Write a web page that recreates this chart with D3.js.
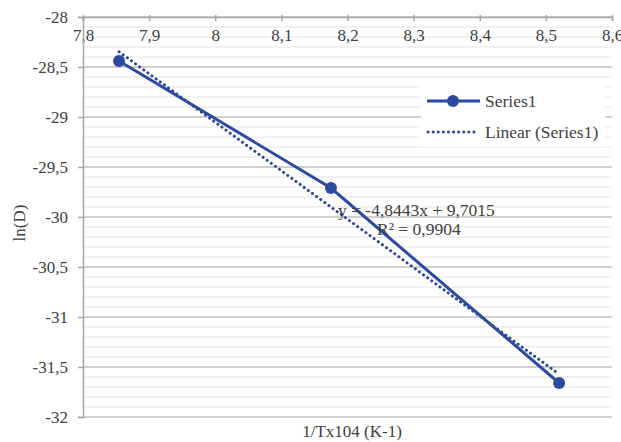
<!DOCTYPE html>
<html>
<head>
<meta charset="utf-8">
<script src="https://cdn.jsdelivr.net/npm/d3@7"></script>
<style>
  body { margin: 0; background: #fff; }
  text { font-family: "Liberation Serif", "Times New Roman", serif; fill: #404040; }
</style>
</head>
<body>
<div id="chart"></div>
<script>
var xValues = [7.8545, 8.175, 8.52];
var yValues = [-28.44, -29.71, -31.66];
var trendSlope = -4.8443, trendIntercept = 9.7015;
var xTicks = [7.8, 7.9, 8.0, 8.1, 8.2, 8.3, 8.4, 8.5, 8.6];
var yTicks = [-28, -28.5, -29, -29.5, -30, -30.5, -31, -31.5, -32];
var equationLines = ["y = -4,8443x + 9,7015", "R² = 0,9904"];
var legendLabels = ["Series1", "Linear (Series1)"];

var margin = { top: 17, right: 9, bottom: 25, left: 83 },
    width = 621 - margin.left - margin.right,
    height = 442 - margin.top - margin.bottom;

var blue = "#2c4a9e";
var locale = d3.formatLocale({ decimal: ",", thousands: ".", grouping: [3], currency: ["", ""], minus: "-" });
var fmt = locale.format("~g");

var x = d3.scaleLinear().domain([7.8, 8.6]).range([0, width]);
var y = d3.scaleLinear().domain([-32, -28]).range([height, 0]);

var svg = d3.select("#chart").append("svg")
    .attr("width", 621)
    .attr("height", 442)
  .append("g")
    .attr("transform", "translate(" + margin.left + "," + margin.top + ")");

// minor gridlines every 0.1
var minor = d3.range(0, 41).map(function(i) { return -32 + i * 0.1; });
svg.selectAll(".minor")
    .data(minor)
    .enter().append("line")
    .attr("x1", 0).attr("x2", width)
    .attr("y1", function(d) { return y(d); })
    .attr("y2", function(d) { return y(d); })
    .attr("stroke", "#e3e3e3")
    .attr("stroke-width", 1);

svg.selectAll(".major")
    .data(yTicks)
    .enter().append("line")
    .attr("x1", 0).attr("x2", width)
    .attr("y1", function(d) { return y(d); })
    .attr("y2", function(d) { return y(d); })
    .attr("stroke", "#c4c4c4")
    .attr("stroke-width", 1.5);

// x axis on top
var xAxis = svg.append("g")
    .call(d3.axisBottom(x).tickValues(xTicks).tickSize(4).tickFormat(fmt));
xAxis.select(".domain").attr("stroke", "#a6a6a6").attr("stroke-width", 1.5);
xAxis.selectAll(".tick line").attr("stroke", "#a6a6a6").attr("stroke-width", 1.5).attr("y1", -2);
xAxis.selectAll(".tick text").attr("y", 12).style("font-size", "17px").style("font-family", "Liberation Serif").attr("fill", "#404040");

// y axis
var yAxis = svg.append("g")
    .call(d3.axisLeft(y).tickValues(yTicks).tickSize(5).tickFormat(fmt));
yAxis.select(".domain").attr("stroke", "#a6a6a6").attr("stroke-width", 1.5);
yAxis.selectAll(".tick line").attr("stroke", "#a6a6a6").attr("stroke-width", 1.5);
yAxis.selectAll(".tick text").attr("x", -15).style("font-size", "17px").style("font-family", "Liberation Serif").attr("fill", "#404040");

// trendline between first and last x
var trend = [xValues[0], xValues[xValues.length - 1]].map(function(v) {
    return { x: v, y: trendSlope * v + trendIntercept };
});
svg.append("path")
    .datum(trend)
    .attr("fill", "none")
    .attr("stroke", blue)
    .attr("stroke-width", 3)
    .attr("stroke-linecap", "round")
    .attr("stroke-dasharray", "0.1,5")
    .attr("d", d3.line().x(function(d) { return x(d.x); }).y(function(d) { return y(d.y); }));

var pts = xValues.map(function(v, i) { return { x: v, y: yValues[i] }; });
svg.append("path")
    .datum(pts)
    .attr("fill", "none")
    .attr("stroke", blue)
    .attr("stroke-width", 3)
    .attr("d", d3.line().x(function(d) { return x(d.x); }).y(function(d) { return y(d.y); }));

svg.selectAll(".dot")
    .data(pts)
    .enter().append("circle")
    .attr("r", 6)
    .attr("cx", function(d) { return x(d.x); })
    .attr("cy", function(d) { return y(d.y); })
    .attr("fill", blue);

// equation
svg.append("text")
    .attr("x", 255).attr("y", 199)
    .style("font-size", "17.5px")
    .text(equationLines[0]);
svg.append("text")
    .attr("x", 294).attr("y", 218)
    .style("font-size", "17.5px")
    .text(equationLines[1]);

// legend
var lg = svg.append("g").attr("transform", "translate(338,68)");
lg.append("rect").attr("width", 184).attr("height", 62).attr("fill", "#fff");
lg.append("line").attr("x1", 6).attr("x2", 59).attr("y1", 16).attr("y2", 16)
    .attr("stroke", blue).attr("stroke-width", 3);
lg.append("circle").attr("cx", 32).attr("cy", 16).attr("r", 6).attr("fill", blue);
lg.append("line").attr("x1", 7).attr("x2", 56).attr("y1", 47).attr("y2", 47)
    .attr("stroke", blue).attr("stroke-width", 3)
    .attr("stroke-linecap", "round").attr("stroke-dasharray", "0.1,5");
lg.selectAll(".lgtext")
    .data(legendLabels)
    .enter().append("text")
    .attr("x", 64)
    .attr("y", function(d, i) { return 16 + i * 31; })
    .attr("dy", "0.35em")
    .style("font-size", "17.5px")
    .text(function(d) { return d; });

// axis titles
svg.append("text")
    .attr("x", 269).attr("y", height + 20)
    .attr("text-anchor", "middle")
    .style("font-size", "17px")
    .text("1/Tx104 (K-1)");
svg.append("text")
    .attr("transform", "translate(" + (-58) + "," + (height / 2 + 6) + ") rotate(-90)")
    .attr("text-anchor", "middle")
    .style("font-size", "17px")
    .text("ln(D)");
</script>
</body>
</html>
